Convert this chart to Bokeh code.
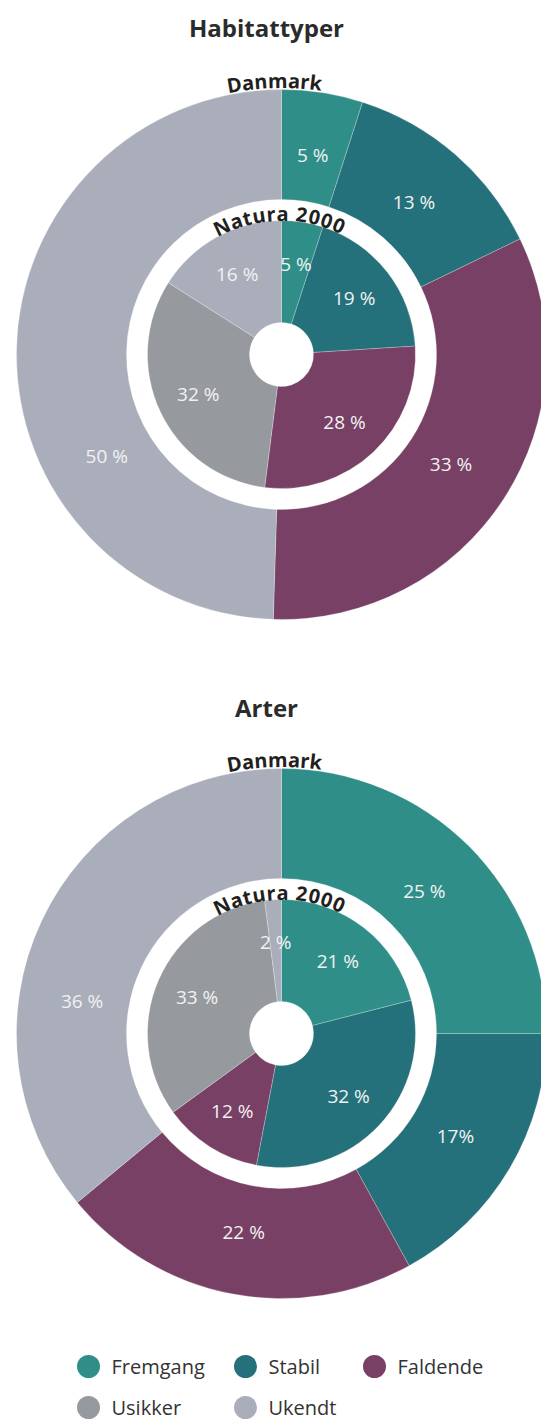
import math
from bokeh.plotting import figure
from bokeh.models import Range1d, ColumnDataSource
from bokeh.core.properties import value
from bokeh.embed import file_html
from bokeh.resources import INLINE

# ---------------- data ----------------
categories = ["Fremgang", "Stabil", "Faldende", "Usikker", "Ukendt"]
cat_colors = ["#2f8f88", "#24717b", "#784064", "#969a9f", "#aaaebb"]

titles = ["Habitattyper", "Arter"]
outer_name = "Danmark"
inner_name = "Natura 2000"

hab_dk_cats = ["Fremgang", "Stabil", "Faldende", "Ukendt"]
hab_dk_vals = [5, 13, 33, 50]
hab_dk_labels = ["5 %", "13 %", "33 %", "50 %"]

hab_n2k_cats = ["Fremgang", "Stabil", "Faldende", "Usikker", "Ukendt"]
hab_n2k_vals = [5, 19, 28, 32, 16]
hab_n2k_labels = ["5 %", "19 %", "28 %", "32 %", "16 %"]

art_dk_cats = ["Fremgang", "Stabil", "Faldende", "Ukendt"]
art_dk_vals = [25, 17, 22, 36]
art_dk_labels = ["25 %", "17%", "22 %", "36 %"]

art_n2k_cats = ["Fremgang", "Stabil", "Faldende", "Usikker", "Ukendt"]
art_n2k_vals = [21, 32, 12, 33, 2]
art_n2k_labels = ["21 %", "32 %", "12 %", "33 %", "2 %"]

# ---------------- layout ----------------
W, H = 541, 1420
FONT = "Open Sans"
color_of = dict(zip(categories, cat_colors))

p = figure(width=W, height=H, x_range=Range1d(0, W), y_range=Range1d(0, H),
           output_backend="svg", toolbar_location=None, min_border=0,
           background_fill_color="white", border_fill_color="white")
p.axis.visible = False
p.grid.visible = False
p.outline_line_color = None


def px(x):
    return x


def py(y):
    return H - y


R_OUT, R_OUT_IN, R_INNER, R_HOLE = 265, 155, 134, 32

# approximate advance widths (em) for bold curved labels
ADV = {"D": .72, "a": .59, "n": .645, "m": .967, "r": .44, "k": .61, "N": .77,
       "t": .42, "u": .645, " ": .26, "2": .572, "0": .572}


def ring(cx, cy, r_in, r_out, cats, vals, labels, label_r, nudges):
    total = float(sum(vals))
    cum = 0.0
    starts, ends, cols, lx, ly = [], [], [], [], []
    for i, v in enumerate(vals):
        a0 = cum / total * 2 * math.pi
        cum += v
        a1 = cum / total * 2 * math.pi
        starts.append(math.pi / 2 - a1)
        ends.append(math.pi / 2 - a0)
        cols.append(color_of[cats[i]])
        mid = (a0 + a1) / 2 + math.radians(nudges.get(i, 0))
        lx.append(cx + label_r * math.sin(mid))
        ly.append(cy + label_r * math.cos(mid))
    src = ColumnDataSource(dict(start=starts, end=ends, color=cols))
    p.annular_wedge(x=cx, y=cy, inner_radius=r_in, outer_radius=r_out,
                    start_angle="start", end_angle="end", fill_color="color",
                    line_color="white", line_alpha=0.35, line_width=0.7,
                    source=src)
    p.text(x=lx, y=ly, text=labels, text_align="center", text_baseline="middle",
           text_color="#f2f2f2", text_font=value(FONT), text_font_size="19px")


def arc_text(cx, cy, r, txt, size, arc_len, center_deg):
    w = [ADV.get(c, .6) for c in txt]
    tot = sum(w)
    scale = arc_len / tot
    xs, ys, angs = [], [], []
    cum = 0.0
    for wi in w:
        s = (cum + wi / 2) * scale - arc_len / 2
        cum += wi
        th = math.radians(center_deg) + s / r
        xs.append(cx + r * math.sin(th))
        ys.append(cy + r * math.cos(th))
        angs.append(-th)
    p.text(x=xs, y=ys, text=list(txt), angle=angs, text_align="center",
           text_baseline="middle", text_color="#231f20", text_font=value(FONT),
           text_font_style="bold", text_font_size=f"{size}px")


charts = [
    (titles[0], 354, 27, hab_dk_cats, hab_dk_vals, hab_dk_labels, {3: -31},
     hab_n2k_cats, hab_n2k_vals, hab_n2k_labels),
    (titles[1], 1033, 707, art_dk_cats, art_dk_vals, art_dk_labels, {3: -16},
     art_n2k_cats, art_n2k_vals, art_n2k_labels),
]

for (title, cyp, typ, dcats, dvals, dlabels, dnudge, ncats, nvals, nlabels) in charts:
    cx, cy = px(281), py(cyp)
    ring(cx, cy, R_OUT_IN, R_OUT, dcats, dvals, dlabels, 202, dnudge)
    ring(cx, cy, R_HOLE, R_INNER, ncats, nvals, nlabels, 92, {})
    p.text(x=[px(266)], y=[py(typ)], text=[title], text_align="center",
           text_baseline="middle", text_color="#2b2b2b", text_font=value(FONT),
           text_font_style="bold", text_font_size="24px")
    arc_text(cx, cy, 274, outer_name, 20, 96, -1.5)
    arc_text(cx, cy, 141, inner_name, 20, 136, -1.0)

# ---------------- legend ----------------
leg_x = [88, 245, 374, 88, 245]
leg_y = [1366, 1366, 1366, 1407, 1407]
p.scatter(x=[px(v) for v in leg_x], y=[py(v) for v in leg_y], size=23,
          marker="circle", fill_color=cat_colors, line_color=None)
p.text(x=[px(v) + 23 for v in leg_x], y=[py(v) for v in leg_y], text=categories,
       text_align="left", text_baseline="middle", text_color="#333333",
       text_font=value(FONT), text_font_size="20px")

open("out.html", "w").write(file_html(p, INLINE))
